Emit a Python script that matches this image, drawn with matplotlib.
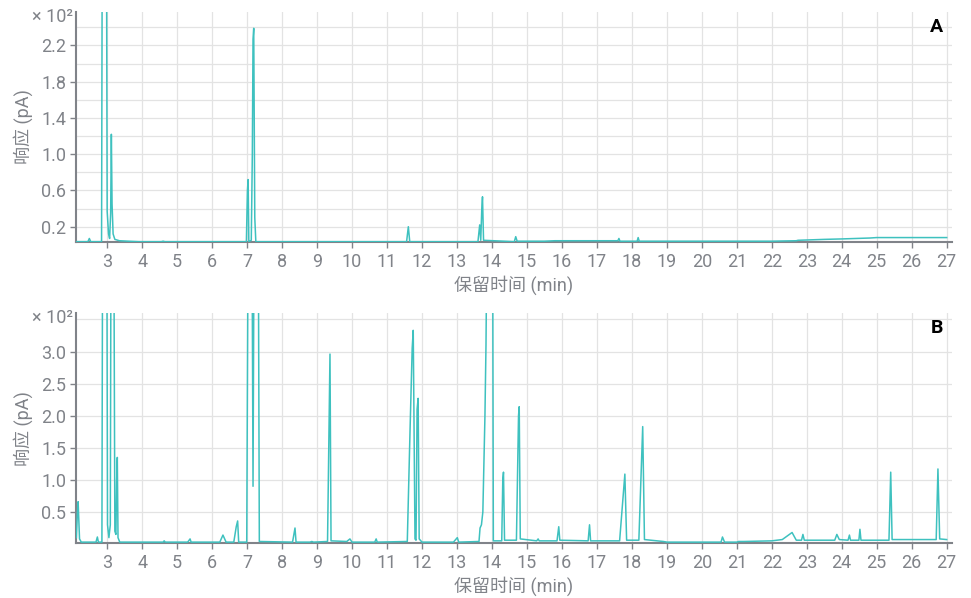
import matplotlib
matplotlib.use("Agg")
import matplotlib.pyplot as plt
from matplotlib.ticker import FixedLocator

# ---------------- data (units of 10^2 pA) ----------------
time_A = [2.12, 2.45, 2.49, 2.53, 2.84, 2.86, 2.98, 3.00, 3.04, 3.07, 3.10, 3.12, 3.14, 3.17, 3.22,
          3.35, 3.6, 3.9, 4.55, 4.6, 4.65, 6.98, 7.01, 7.03, 7.05, 7.12, 7.15, 7.17, 7.19, 7.22,
          7.25, 11.56, 11.61, 11.65, 13.6, 13.65, 13.68, 13.71, 13.73, 13.76, 14.64, 14.68, 14.72,
          15.5, 15.8, 17.6, 17.63, 17.66, 18.15, 18.18, 18.21, 22.0, 22.7, 22.75, 23.5, 24.0,
          24.8, 25.0, 27.0]
resp_A = [0.035, 0.035, 0.07, 0.035, 0.035, 3.5, 3.5, 0.37, 0.12, 0.07, 0.35, 1.22, 0.45, 0.12, 0.06,
          0.045, 0.04, 0.035, 0.035, 0.04, 0.035, 0.035, 0.60, 0.72, 0.035, 0.05, 1.0, 2.27, 2.39, 0.3,
          0.035, 0.035, 0.20, 0.035, 0.035, 0.22, 0.05, 0.40, 0.53, 0.05, 0.035, 0.09, 0.04,
          0.04, 0.045, 0.045, 0.07, 0.04, 0.04, 0.08, 0.04, 0.04, 0.045, 0.05, 0.06, 0.065,
          0.075, 0.08, 0.08]

time_B = [2.12, 2.15, 2.17, 2.21, 2.26, 2.68, 2.72, 2.75, 2.85, 2.87, 2.99, 3.01, 3.05, 3.09, 3.11,
          3.19, 3.22, 3.25, 3.27, 3.29, 3.31, 3.36, 4.6, 4.63, 4.66, 5.3, 5.33, 5.37, 5.4, 6.22,
          6.31, 6.4, 6.62, 6.69, 6.73, 6.76, 6.99, 7.03, 7.14, 7.17, 7.2, 7.32, 7.35, 8.3, 8.37,
          8.4, 8.8, 8.85, 8.9, 9.3, 9.35, 9.37, 9.4, 9.85, 9.94, 10.0, 10.65, 10.69, 10.72, 11.58,
          11.66, 11.72, 11.75, 11.8, 11.83, 11.86, 11.89, 11.92, 12.0, 12.9, 13.01, 13.05, 13.63,
          13.66, 13.7, 13.74, 13.8, 13.83, 13.86, 14.02, 14.04, 14.28, 14.31, 14.33, 14.36, 14.7,
          14.76, 14.78, 14.81, 15.28, 15.32, 15.35, 15.86, 15.91, 15.94, 16.75, 16.79, 16.82,
          17.65, 17.8, 17.85, 18.2, 18.31, 18.36, 18.9, 19.0, 20.55, 20.59, 20.65, 21.0, 21.05,
          21.2, 22.0, 22.3, 22.58, 22.7, 22.85, 22.89, 22.93, 23.8, 23.86, 23.93, 24.18, 24.22,
          24.25, 24.49, 24.52, 24.55, 25.35, 25.4, 25.44, 26.7, 26.75, 26.8, 27.0]
resp_B = [0.1, 0.5, 0.66, 0.08, 0.03, 0.03, 0.11, 0.03, 0.03, 5, 5, 0.3, 0.1, 0.3, 5,
          5, 0.2, 0.15, 0.97, 1.35, 0.1, 0.03, 0.03, 0.05, 0.03, 0.03, 0.05, 0.08, 0.03, 0.03,
          0.14, 0.03, 0.03, 0.27, 0.36, 0.03, 0.03, 5, 5, 0.9, 5, 5, 0.04, 0.03, 0.25,
          0.03, 0.03, 0.04, 0.03, 0.04, 2.15, 2.96, 0.05, 0.04, 0.08, 0.03, 0.03, 0.08, 0.03, 0.04,
          1.8, 3.05, 3.33, 0.08, 0.06, 2.1, 2.27, 0.08, 0.03, 0.03, 0.1, 0.03, 0.04,
          0.25, 0.3, 0.5, 2.0, 3.1, 5, 5, 0.05, 0.05, 1.0, 1.12, 0.06, 0.06,
          2.0, 2.14, 0.08, 0.05, 0.08, 0.05, 0.05, 0.27, 0.06, 0.05, 0.3, 0.05,
          0.05, 1.09, 0.06, 0.06, 1.83, 0.07, 0.04, 0.03, 0.03, 0.11, 0.03, 0.03, 0.04,
          0.04, 0.05, 0.07, 0.18, 0.06, 0.06, 0.15, 0.06, 0.06, 0.15, 0.07, 0.06, 0.14,
          0.06, 0.06, 0.23, 0.06, 0.06, 1.12, 0.07, 0.07, 1.17, 0.08, 0.07]

x_ticks = list(range(3, 28))
yticks_A = [0.2, 0.6, 1.0, 1.4, 1.8, 2.2]
ygrid_A = [0.4, 0.8, 1.2, 1.6, 2.0, 2.4]
yticks_B = [0.5, 1.0, 1.5, 2.0, 2.5, 3.0]
ygrid_B = [3.5]

# ---------------- style ----------------
plt.rcParams['font.family'] = ['Roboto', 'Noto Sans CJK SC', 'DejaVu Sans']
LINE = '#3EC1BF'
GREY = '#808389'
GRID = '#E3E3E3'
FS = 13

fig = plt.figure(figsize=(9.71, 5.98), dpi=100)
axA = fig.add_axes([0.0783, 0.5953, 0.9017, 0.3847])
axB = fig.add_axes([0.0783, 0.0915, 0.9017, 0.3851])


def style(ax, t, r, yt, yg, ylim, letter):
    ax.plot(t, r, color=LINE, lw=1.1, zorder=3)
    ax.set_xlim(2.11, 27.14)
    ax.set_ylim(*ylim)
    ax.set_xticks(x_ticks)
    ax.set_yticks(yt)
    ax.set_yticklabels([f"{v:.1f}" for v in yt])
    ax.yaxis.set_minor_locator(FixedLocator(yg))
    ax.grid(True, which='major', color=GRID, lw=0.9, zorder=0)
    ax.grid(True, which='minor', axis='y', color=GRID, lw=0.9, zorder=0)
    ax.tick_params(axis='y', which='minor', length=0)
    ax.tick_params(axis='both', which='major', colors=GREY, labelsize=FS,
                   length=4, width=1.0, direction='out')
    ax.tick_params(axis='x', pad=4)
    ax.tick_params(axis='y', pad=3)
    for s in ('top', 'right'):
        ax.spines[s].set_visible(False)
    for s in ('left', 'bottom'):
        ax.spines[s].set_color(GREY)
        ax.spines[s].set_linewidth(1.5)
    ax.set_xlabel('保留时间 (min)', color=GREY, fontsize=FS, labelpad=3)
    ax.set_ylabel('响应 (pA)', color=GREY, fontsize=FS)
    ax.text(-0.004, 0.978, '× 10²', transform=ax.transAxes, ha='right', va='center',
            color=GREY, fontsize=FS)
    ax.text(0.99, 0.935, letter, transform=ax.transAxes, ha='right', va='center',
            color='black', fontsize=14, fontweight='bold')


style(axA, time_A, resp_A, yticks_A, ygrid_A, (0.031, 2.57), 'A')
style(axB, time_B, resp_B, yticks_B, ygrid_B, (0.012, 3.6), 'B')
axA.yaxis.set_label_coords(-0.049, 0.5)
axB.yaxis.set_label_coords(-0.049, 0.5)

fig.savefig('out.png', dpi=100)
